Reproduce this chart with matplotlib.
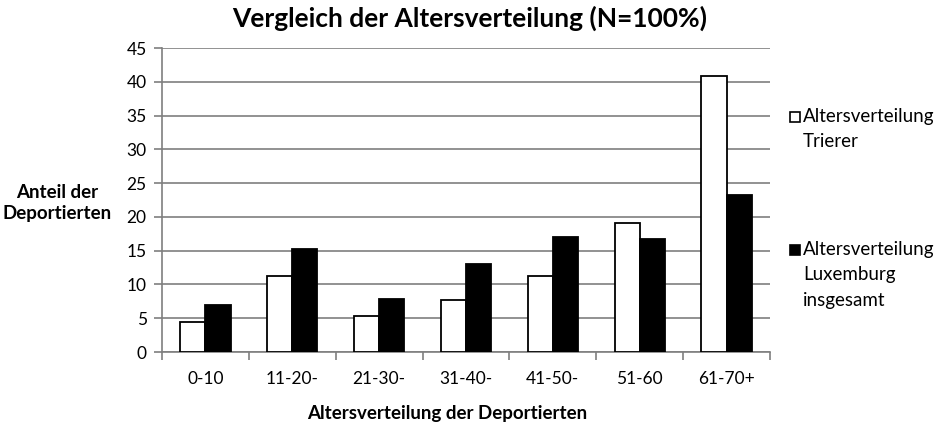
import numpy as np
import matplotlib.pyplot as plt
from matplotlib.patches import Rectangle

plt.rcParams['font.family'] = ['Lato', 'DejaVu Sans']

kategorien = ['0-10', '11-20-', '21-30-', '31-40-', '41-50-', '51-60', '61-70+']
trierer = [4.4, 11.2, 5.3, 7.7, 11.2, 19.1, 40.9]
luxemburg = [6.9, 15.2, 7.8, 13.0, 17.1, 16.8, 23.3]
namen = ['Altersverteilung\nTrierer', 'Altersverteilung\nLuxemburg\ninsgesamt']

x = np.arange(len(kategorien))
w = 0.29
W, H = 939, 426

fig = plt.figure(figsize=(9.39, 4.26), dpi=100)
ax = fig.add_axes([0.1725, 0.1737, 0.6475, 0.7133])

ax.bar(x - w / 2, trierer, w, color='white', edgecolor='black', lw=1.3, zorder=3)
ax.bar(x + w / 2, luxemburg, w, color='black', edgecolor='black', lw=1.3, zorder=3)

ax.set_xlim(-0.5, len(kategorien) - 0.5)
ax.set_ylim(0, 45)
ax.set_yticks(np.arange(0, 46, 5))
ax.set_xticks(x)
ax.set_xticklabels(kategorien)
ax.set_xticks(np.arange(-0.5, len(kategorien), 1), minor=True)
ax.tick_params(axis='x', which='major', length=0, pad=14, labelsize=12.5)
ax.tick_params(axis='x', which='minor', length=6, color='#7f7f7f', width=1.2)
ax.tick_params(axis='y', length=6, color='#7f7f7f', width=1.2, labelsize=12.5, pad=5)

ax.yaxis.grid(True, color='#7f7f7f', lw=1.2, zorder=0)
ax.set_axisbelow(True)
for s in ['top', 'right']:
    ax.spines[s].set_visible(False)
for s in ['left', 'bottom']:
    ax.spines[s].set_color('#7f7f7f')
    ax.spines[s].set_linewidth(1.2)

fig.text(0.5, 1 - 18 / H, 'Vergleich der Altersverteilung (N=100%)', ha='center',
         va='center', fontsize=19, fontweight='bold')
fig.text(57 / W, 1 - 203 / H, 'Anteil der\nDeportierten', ha='center', va='center',
         fontsize=13.5, fontweight='bold', linespacing=1.35)
fig.text(447 / W, 1 - 413 / H, 'Altersverteilung der Deportierten', ha='center',
         va='center', fontsize=13.5, fontweight='bold')

# Legende (Kästchen an der ersten Zeile ausgerichtet)
for name, farbe, y in zip(namen, ['white', 'black'], [117, 250]):
    fig.patches.append(Rectangle((790 / W, 1 - (y + 5) / H), 10 / W, 10 / H,
                                 transform=fig.transFigure, facecolor=farbe,
                                 edgecolor='black', lw=1.2))
    fig.text(803 / W, 1 - (y - 9) / H, name, ha='left', va='top',
             fontsize=13.5, linespacing=1.6)

plt.savefig('out.png')
